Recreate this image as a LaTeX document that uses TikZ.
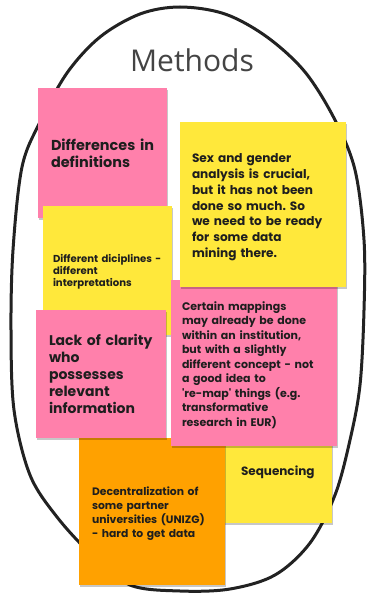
\documentclass[tikz,border=0pt]{standalone}
\usepackage{fontspec}
\setmainfont{Poppins}[Ligatures=TeXOff]
\newfontfamily\titlefont{Open Sans}
\usetikzlibrary{shadows}
\frenchspacing
\definecolor{notepink}{HTML}{FF80AB}
\definecolor{noteyellow}{HTML}{FFE83B}
\definecolor{noteorange}{HTML}{FFA100}
\definecolor{titlegray}{HTML}{444444}
\definecolor{ink}{HTML}{1E1E1E}
\definecolor{loopline}{HTML}{222222}
\tikzset{
  note/.style={draw=none, inner sep=0pt, outer sep=0pt, anchor=north west,
    drop shadow={shadow xshift=0.8pt, shadow yshift=-1.6pt, opacity=0.22, fill=black}},
  notetext/.style={anchor=base west, inner sep=0pt, outer sep=0pt, align=left,
    text=ink, text width=#1},
  loop/.style={draw=loopline, line width=3pt, line join=round},
}
\begin{document}
\begin{tikzpicture}[x=1pt, y=-1pt]
\useasboundingbox (0,0) rectangle (366,593);
% hand-drawn loop
\draw[loop] plot[smooth cycle, tension=0.55] coordinates {
 (180,7) (225,14) (267,37) (305,72) (335,120) (355,170) (364,240) (364,310)
 (360,385) (350,440) (335,495) (310,543) (275,575) (230,589) (180,591)
 (130,585) (92,555) (57,517) (30,475) (14,410) (11,330) (13,250) (22,167)
 (40,122) (67,73) (100,37) (140,14)};
\node[font=\titlefont\fontsize{30}{36}\selectfont, text=titlegray, anchor=base, inner sep=0pt] (title) at (192,72) {Methods};
% notes (back to front)
\node[note, fill=noteyellow, minimum width=108pt, minimum height=83pt] (n6) at (224,440) {};
\node[note, fill=noteorange, minimum width=146pt, minimum height=147pt] (n7) at (79,438) {};
\node[note, fill=notepink, minimum width=129pt, minimum height=130pt] (n1) at (38,88) {};
\node[note, fill=noteyellow, minimum width=129pt, minimum height=129pt] (n3) at (43,206) {};
\node[note, fill=notepink, minimum width=130pt, minimum height=128pt] (n4) at (36,310) {};
\node[note, fill=notepink, minimum width=166pt, minimum height=166pt] (n5) at (171,280) {};
\node[note, fill=noteyellow, minimum width=166pt, minimum height=165pt] (n2) at (180,122) {};
% texts
\node[notetext=125pt, font=\bfseries\fontsize{14.4}{16.5}\selectfont] (t1) at (51,151) {Differences in\\definitions};
\node[notetext=150pt, font=\bfseries\fontsize{12.1}{15.7}\selectfont] (t2) at (192,163) {Sex and gender\\analysis is crucial,\\but it has not been\\done so much. So\\we need to be ready\\for some data\\mining there.};
\node[notetext=120pt, font=\bfseries\fontsize{10.1}{12}\selectfont] (t3) at (53,262) {Different diciplines -\\different\\interpretations};
\node[notetext=125pt, font=\bfseries\fontsize{14}{17}\selectfont] (t4) at (49,345) {Lack of clarity\\who\\possesses\\relevant\\information};
\node[notetext=155pt, font=\bfseries\fontsize{11}{14.5}\selectfont] (t5) at (182,310) {Certain mappings\\may already be done\\within an institution,\\but with a slightly\\different concept - not\\a good idea to\\'re-map' things (e.g.\\transformative\\research in EUR)};
\node[notetext=90pt, font=\bfseries\fontsize{12}{14}\selectfont] (t6) at (241,475) {Sequencing};
\node[notetext=135pt, font=\bfseries\fontsize{10.8}{14}\selectfont] (t7) at (92,495) {Decentralization of\\some partner\\universities (UNIZG)\\- hard to get data};
\end{tikzpicture}
\end{document}
